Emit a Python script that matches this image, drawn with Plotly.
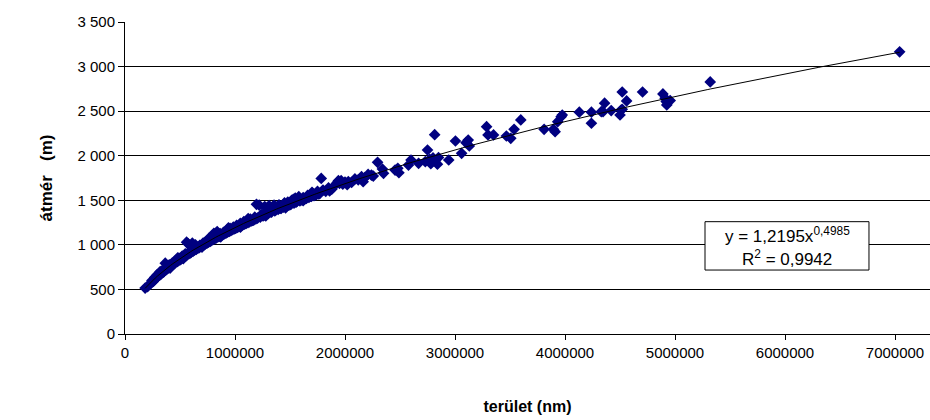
import numpy as np
import plotly.graph_objects as go

# measured lake area (nm) and diameter (m)
area_nm = [
    183000, 230000, 245000, 258000, 270000, 282000, 290000, 300000, 312000, 325000,
    335000, 348000, 360000, 366000, 378000, 390000, 402000, 415000, 428000, 440000,
    452000, 465000, 478000, 490000, 505000, 520000, 535000, 548000, 560000, 566000,
    575000, 590000, 600000, 612000, 625000, 640000, 655000, 668000, 680000, 695000,
    710000, 725000, 740000, 752000, 768000, 780000, 795000, 808000, 822000, 838000,
    850000, 865000, 880000, 895000, 910000, 925000, 940000, 955000, 970000, 985000,
    1000000, 1015000, 1030000, 1048000, 1062000, 1080000, 1095000, 1110000, 1125000, 1140000,
    1160000, 1180000, 1195000, 1205000, 1220000, 1240000, 1255000, 1270000, 1290000, 1310000,
    1325000, 1340000, 1355000, 1370000, 1385000, 1400000, 1420000, 1435000, 1450000, 1465000,
    1480000, 1500000, 1515000, 1530000, 1548000, 1565000, 1580000, 1600000, 1620000, 1640000,
    1660000, 1685000, 1705000, 1730000, 1750000, 1770000, 1784000, 1800000, 1825000, 1850000,
    1880000, 1905000, 1930000, 1950000, 1965000, 1980000, 2000000, 2030000, 2060000, 2090000,
    2120000, 2150000, 2180000, 2210000, 2240000,
    205000, 238000, 264000, 276000, 295000, 318000, 330000, 342000, 355000, 372000,
    384000, 396000, 408000, 422000, 434000, 446000, 458000, 471000, 484000, 497000,
    512000, 527000, 542000, 555000, 582000, 595000, 618000, 632000, 648000, 662000,
    675000, 688000, 702000, 718000, 732000, 746000, 760000, 774000, 788000, 802000,
    815000, 830000, 844000, 858000, 872000, 888000, 902000, 918000, 932000, 948000,
    962000, 978000, 992000, 1008000, 1022000, 1040000, 1055000, 1070000, 1088000, 1102000,
    1118000, 1132000, 1150000, 1170000, 1190000, 1230000, 1262000, 1300000, 1332000, 1362000,
    1392000, 1410000, 1442000, 1472000, 1490000, 1508000, 1540000, 1556000, 1590000, 1610000,
    1630000, 1650000, 1672000, 1695000, 1718000, 1740000, 1760000,
    320000, 410000, 480000, 530000, 620000, 700000, 760000, 870000, 940000, 1050000,
    1120000, 1280000, 1350000, 1460000, 1530000, 1620000, 1700000, 1860000, 1940000, 2020000,
    2165000, 2257000, 2296000, 2340000, 2350000, 2455000, 2490000, 2480000, 2577000, 2600000,
    2669000, 2730000, 2750000, 2815000, 2770000, 2790000, 2800000, 2820000, 2840000, 2850000,
    2780000, 2943000, 3004000, 3060000, 3100000, 3120000, 3130000, 3287000, 3300000, 3350000,
    3467000, 3507000, 3537000, 3598000, 3810000, 3895000, 3910000, 3934000, 3965000, 3975000,
    4130000, 4240000, 4240000, 4330000, 4346000, 4360000, 4420000, 4500000, 4510000, 4520000,
    4520000, 4560000, 4705000, 4890000, 4910000, 4925000, 4956000, 4920000, 5320000, 7042000,
]
diameter_m = [
    515, 565, 600, 590, 635, 628, 660, 648, 680, 672,
    705, 698, 735, 795, 728, 760, 775, 762, 795, 785,
    812, 830, 818, 850, 835, 875, 868, 900, 1030, 890,
    1010, 930, 915, 1020, 955, 1000, 975, 970, 995, 985,
    1020, 1010, 1040, 1030, 1060, 1045, 1080, 1130, 1100, 1150,
    1095, 1125, 1110, 1140, 1135, 1165, 1150, 1185, 1170, 1200,
    1185, 1220, 1205, 1240, 1220, 1260, 1245, 1275, 1262, 1290,
    1275, 1310, 1455, 1300, 1445, 1340, 1325, 1430, 1365, 1440,
    1370, 1400, 1445, 1390, 1420, 1450, 1410, 1445, 1470, 1435,
    1480, 1450, 1500, 1470, 1525, 1490, 1540, 1505, 1530, 1520,
    1555, 1545, 1580, 1560, 1600, 1575, 1745, 1615, 1600, 1640,
    1625, 1665, 1700, 1690, 1720, 1680, 1705, 1710, 1700, 1740,
    1730, 1765, 1755, 1790, 1783,
    530, 575, 605, 618, 640, 662, 676, 690, 700, 718,
    732, 742, 752, 768, 776, 790, 800, 808, 822, 830,
    845, 855, 870, 880, 900, 910, 928, 940, 950, 962,
    970, 980, 990, 1000, 1012, 1020, 1030, 1040, 1050, 1060,
    1068, 1078, 1088, 1095, 1105, 1115, 1124, 1132, 1142, 1152,
    1160, 1170, 1178, 1188, 1196, 1206, 1215, 1224, 1233, 1240,
    1250, 1258, 1268, 1278, 1290, 1312, 1330, 1350, 1368, 1382,
    1398, 1408, 1422, 1438, 1446, 1455, 1470, 1478, 1494, 1503,
    1512, 1522, 1532, 1543, 1552, 1562, 1572,
    700, 740, 855, 845, 970, 975, 1070, 1090, 1190, 1200,
    1295, 1325, 1420, 1415, 1510, 1495, 1590, 1605, 1720, 1675,
    1708, 1772, 1926, 1850, 1802, 1839, 1809, 1858, 1895, 1952,
    1915, 1933, 2064, 2236, 1960, 1930, 1975, 1945, 1905, 1980,
    1910, 1952, 2165, 2027, 2146, 2176, 2109, 2326, 2233, 2233,
    2221, 2195, 2296, 2401, 2296, 2296, 2270, 2382, 2438, 2457,
    2488, 2488, 2364, 2494, 2494, 2589, 2506, 2457, 2513, 2521,
    2715, 2615, 2715, 2693, 2645, 2570, 2618, 2607, 2828, 3165,
]

# fitted power trend: y = 1,2195 x^0,4985
fit_a = 1.2195
fit_b = 0.4985
fit_r2 = 0.9942

x_tick_vals = [0, 1000000, 2000000, 3000000, 4000000, 5000000, 6000000, 7000000]
y_tick_vals = [0, 500, 1000, 1500, 2000, 2500, 3000, 3500]

trend_x = np.linspace(min(area_nm), max(area_nm), 300)
trend_y = fit_a * trend_x ** fit_b

font_family = "Arial, 'Liberation Sans', sans-serif"
black = "#000000"

fig = go.Figure()
fig.add_trace(go.Scatter(
    x=area_nm, y=diameter_m, mode="markers",
    marker=dict(symbol="diamond", size=9, color="#000080", line=dict(width=0)),
    showlegend=False,
))
fig.add_trace(go.Scatter(
    x=trend_x, y=trend_y, mode="lines",
    line=dict(color=black, width=1),
    hoverinfo="skip", showlegend=False,
))

# equation box
fig.add_shape(
    type="rect", xref="paper", yref="paper",
    x0=0.7205, x1=0.9242, y0=0.205, y1=0.36,
    line=dict(color=black, width=1), fillcolor="#ffffff", layer="above",
)
fig.add_annotation(
    xref="paper", yref="paper", x=0.8224, y=0.318, xanchor="center", yanchor="middle",
    text=f"y = {str(fit_a).replace('.', ',')}x<sup>{str(fit_b).replace('.', ',')}</sup>",
    showarrow=False,
    font=dict(family=font_family, size=17, color=black),
)
fig.add_annotation(
    xref="paper", yref="paper", x=0.8224, y=0.243, xanchor="center", yanchor="middle",
    text=f"R<sup>2</sup> = {str(fit_r2).replace('.', ',')}", showarrow=False,
    font=dict(family=font_family, size=17, color=black),
)

fig.update_layout(
    width=930, height=420,
    margin=dict(l=125, r=0, t=22, b=86),
    paper_bgcolor="#ffffff", plot_bgcolor="#ffffff",
    separators=", ",
    font=dict(family=font_family, size=15, color=black),
)
fig.update_xaxes(
    range=[0, 7318000],
    tickvals=x_tick_vals, ticktext=[str(v) for v in x_tick_vals],
    ticks="outside", ticklen=5, tickcolor=black,
    showline=True, linecolor=black, linewidth=1,
    showgrid=False, zeroline=False,
    tickfont=dict(family=font_family, size=15, color=black),
    title=dict(text="<b>terület (nm)</b>", standoff=40,
               font=dict(family=font_family, size=16, color=black)),
)
fig.update_yaxes(
    range=[0, 3500],
    tickvals=y_tick_vals, tickformat=",d",
    ticks="outside", ticklen=6, tickcolor=black,
    showline=True, linecolor=black, linewidth=1,
    showgrid=True, gridcolor=black, gridwidth=1,
    zeroline=False,
    tickfont=dict(family=font_family, size=15, color=black),
    title=dict(text="<b>átmér\u00a0\u00a0\u00a0(m)</b>", standoff=20,
               font=dict(family=font_family, size=17, color=black)),
)

fig.write_html("out.html")
